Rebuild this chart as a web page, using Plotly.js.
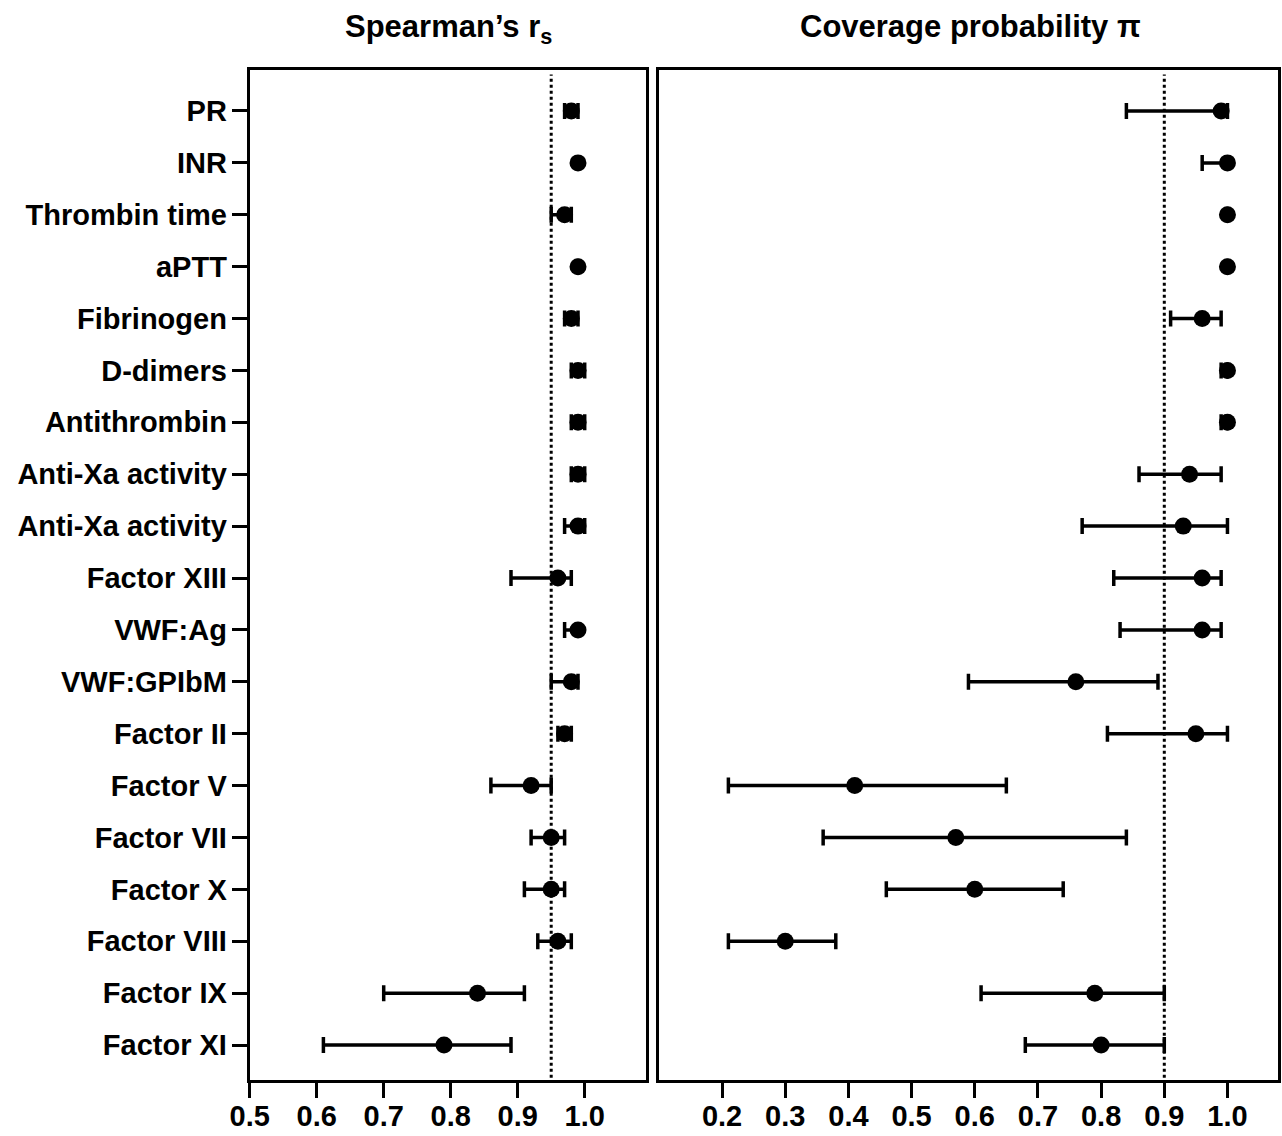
<!DOCTYPE html>
<html>
<head>
<meta charset="utf-8">
<script src="https://cdn.plot.ly/plotly-3.0.1.min.js"></script>
<style>
  html, body { margin: 0; padding: 0; background: #ffffff; }
  #chart { width: 1282px; height: 1136px; }
</style>
</head>
<body>
<div id="chart"></div>
<script>
// ---- Data ----
const categories = [
  "PR", "INR", "Thrombin time", "aPTT", "Fibrinogen", "D-dimers",
  "Antithrombin", "Anti-Xa activity", "Anti-Xa activity", "Factor XIII",
  "VWF:Ag", "VWF:GPIbM", "Factor II", "Factor V", "Factor VII",
  "Factor X", "Factor VIII", "Factor IX", "Factor XI"
];

// Spearman's r_s: estimate with lower / upper CI bounds
const rsValue = [0.98, 0.99, 0.97, 0.99, 0.98, 0.99, 0.99, 0.99, 0.99, 0.96, 0.99, 0.98, 0.97, 0.92, 0.95, 0.95, 0.96, 0.84, 0.79];
const rsLower = [0.97, 0.99, 0.95, 0.99, 0.97, 0.98, 0.98, 0.98, 0.97, 0.89, 0.97, 0.95, 0.96, 0.86, 0.92, 0.91, 0.93, 0.70, 0.61];
const rsUpper = [0.99, 0.99, 0.98, 0.99, 0.99, 1.00, 1.00, 1.00, 1.00, 0.98, 0.99, 0.99, 0.98, 0.95, 0.97, 0.97, 0.98, 0.91, 0.89];

// Coverage probability pi: estimate with lower / upper CI bounds
const piValue = [0.99, 1.00, 1.00, 1.00, 0.96, 1.00, 1.00, 0.94, 0.93, 0.96, 0.96, 0.76, 0.95, 0.41, 0.57, 0.60, 0.30, 0.79, 0.80];
const piLower = [0.84, 0.96, 1.00, 1.00, 0.91, 0.99, 0.99, 0.86, 0.77, 0.82, 0.83, 0.59, 0.81, 0.21, 0.36, 0.46, 0.21, 0.61, 0.68];
const piUpper = [1.00, 1.00, 1.00, 1.00, 0.99, 1.00, 1.00, 0.99, 1.00, 0.99, 0.99, 0.89, 1.00, 0.65, 0.84, 0.74, 0.38, 0.90, 0.90];

const rsTicks = [0.5, 0.6, 0.7, 0.8, 0.9, 1.0];
const piTicks = [0.2, 0.3, 0.4, 0.5, 0.6, 0.7, 0.8, 0.9, 1.0];
const rsReference = 0.95;
const piReference = 0.9;

const panelTitles = ["Spearman\u2019s r<sub>s</sub>", "Coverage probability \u03c0"];

// ---- Build traces ----
const rowIndex = categories.map((_, i) => i);
const FONT = "Liberation Sans, Arial, Helvetica, sans-serif";

function errTrace(vals, lo, hi, xa, ya) {
  return {
    type: "scatter",
    mode: "markers",
    x: vals,
    y: rowIndex,
    xaxis: xa,
    yaxis: ya,
    marker: { color: "#000000", size: 17, symbol: "circle" },
    error_x: {
      type: "data",
      symmetric: false,
      array: hi.map((h, i) => +(h - vals[i]).toFixed(4)),
      arrayminus: lo.map((l, i) => +(vals[i] - l).toFixed(4)),
      color: "#000000",
      thickness: 3.5,
      width: 8
    },
    showlegend: false,
    hoverinfo: "x+y"
  };
}

const data = [
  errTrace(rsValue, rsLower, rsUpper, "x", "y"),
  errTrace(piValue, piLower, piUpper, "x2", "y2")
];

const yRange = [18.674, -0.79];
const yDom = [1 - 1080 / 1136, 1 - 70 / 1136];

const axisCommon = {
  showline: true,
  linecolor: "#000000",
  linewidth: 3,
  mirror: true,
  showgrid: false,
  zeroline: false
};

const layout = {
  width: 1282,
  height: 1136,
  margin: { l: 0, r: 0, t: 0, b: 0, pad: 0 },
  paper_bgcolor: "#ffffff",
  plot_bgcolor: "#ffffff",
  font: { family: FONT, color: "#000000" },
  xaxis: Object.assign({}, axisCommon, {
    domain: [249.7 / 1282, 646 / 1282],
    anchor: "y",
    range: [0.5, 1.0915],
    tickmode: "array",
    tickvals: rsTicks,
    ticktext: rsTicks.map(v => v.toFixed(1)),
    ticks: "outside",
    ticklen: 15,
    tickwidth: 3,
    tickcolor: "#000000",
    ticklabelstandoff: -7,
    tickfont: { family: FONT, size: 29, color: "#000000", weight: "bold" }
  }),
  yaxis: Object.assign({}, axisCommon, {
    domain: yDom,
    anchor: "x",
    range: yRange,
    tickmode: "array",
    tickvals: rowIndex,
    ticktext: categories,
    ticks: "outside",
    ticklen: 15,
    tickwidth: 3,
    tickcolor: "#000000",
    ticklabelstandoff: -1,
    tickfont: { family: FONT, size: 29, color: "#000000", weight: "bold" }
  }),
  xaxis2: Object.assign({}, axisCommon, {
    domain: [658.9 / 1282, 1278 / 1282],
    anchor: "y2",
    range: [0.1, 1.08],
    tickmode: "array",
    tickvals: piTicks,
    ticktext: piTicks.map(v => v.toFixed(1)),
    ticks: "outside",
    ticklen: 15,
    tickwidth: 3,
    tickcolor: "#000000",
    ticklabelstandoff: -7,
    tickfont: { family: FONT, size: 29, color: "#000000", weight: "bold" }
  }),
  yaxis2: Object.assign({}, axisCommon, {
    domain: yDom,
    anchor: "x2",
    range: yRange,
    showticklabels: false,
    ticks: ""
  }),
  shapes: [
    {
      type: "line", xref: "x", yref: "paper",
      x0: rsReference, x1: rsReference, y0: yDom[0] + 0.002, y1: yDom[1] - 0.004,
      line: { color: "#000000", width: 3, dash: "dot" }, layer: "below"
    },
    {
      type: "line", xref: "x2", yref: "paper",
      x0: piReference, x1: piReference, y0: yDom[0] + 0.002, y1: yDom[1] - 0.004,
      line: { color: "#000000", width: 3, dash: "dot" }, layer: "below"
    }
  ],
  annotations: [
    {
      text: panelTitles[0], xref: "paper", yref: "paper",
      x: 448 / 1282, y: 1 - 7 / 1136, xanchor: "center", yanchor: "top",
      showarrow: false,
      font: { family: FONT, size: 31, color: "#000000", weight: "bold" }
    },
    {
      text: panelTitles[1], xref: "paper", yref: "paper",
      x: 970 / 1282, y: 1 - 7 / 1136, xanchor: "center", yanchor: "top",
      showarrow: false,
      font: { family: FONT, size: 31, color: "#000000", weight: "bold" }
    }
  ]
};

Plotly.newPlot("chart", data, layout, { displayModeBar: false, staticPlot: true });
</script>
</body>
</html>
